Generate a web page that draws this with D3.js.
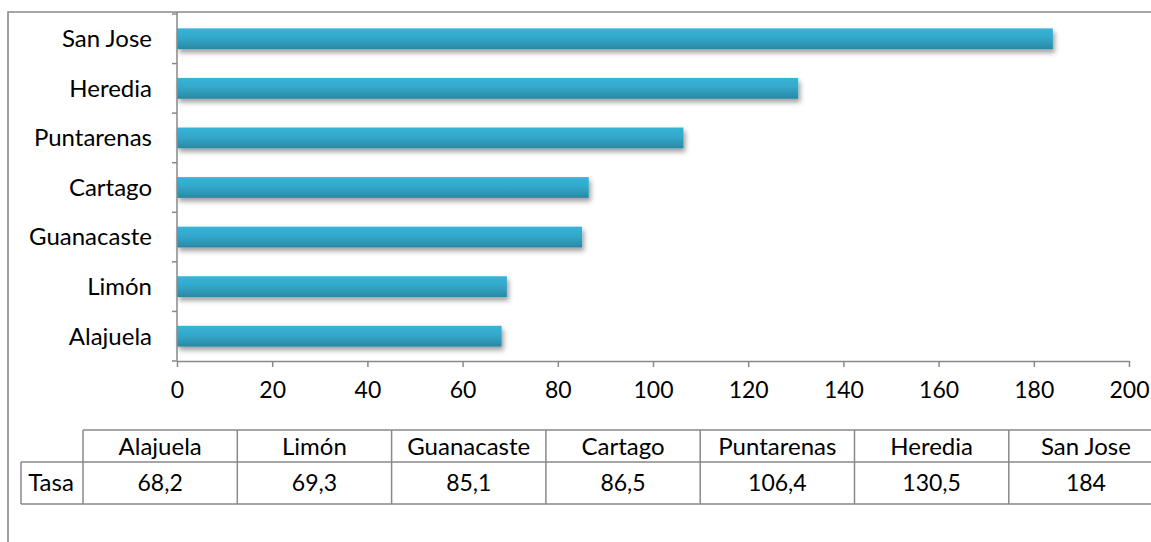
<!DOCTYPE html>
<html>
<head>
<meta charset="utf-8">
<script src="https://cdn.jsdelivr.net/npm/d3@7"></script>
<style>
  html, body { margin: 0; padding: 0; background: #fff; }
  svg { display: block; font-family: Lato, "Open Sans", sans-serif; }
</style>
</head>
<body>
<svg id="chart" width="1151" height="542"></svg>
<script>
// Provinces (bottom to top on the chart, left to right in the table)
const provincias = ["Alajuela", "Limón", "Guanacaste", "Cartago", "Puntarenas", "Heredia", "San Jose"];
// Rate per province
const tasa = [68.2, 69.3, 85.1, 86.5, 106.4, 130.5, 184];
// Text shown in the data table
const tasaTexto = ["68,2", "69,3", "85,1", "86,5", "106,4", "130,5", "184"];
const serieNombre = "Tasa";
const xTicks = [0, 20, 40, 60, 80, 100, 120, 140, 160, 180, 200];

const svg = d3.select("#chart");
const gray = "#898989";
const fontSize = 24;
const numSize = 23;

// Gradient fill and soft shadow for the bars
const defs = svg.append("defs");
const grad = defs.append("linearGradient")
  .attr("id", "barGrad").attr("x1", 0).attr("y1", 0).attr("x2", 0).attr("y2", 1);
grad.append("stop").attr("offset", "0%").attr("stop-color", "#38B4D8");
grad.append("stop").attr("offset", "45%").attr("stop-color", "#33A8CB");
grad.append("stop").attr("offset", "100%").attr("stop-color", "#2A88A3");
const shadow = defs.append("filter").attr("id", "barShadow")
  .attr("x", "-5%").attr("y", "-40%").attr("width", "115%").attr("height", "200%");
shadow.append("feDropShadow")
  .attr("dx", 2).attr("dy", 3.5).attr("stdDeviation", 2.6)
  .attr("flood-color", "#000").attr("flood-opacity", 0.38);

// Outer chart frame (left and top edges)
svg.append("path")
  .attr("d", "M8,542 V12 H1151")
  .attr("fill", "none").attr("stroke", gray).attr("stroke-width", 1.6);

// Scales
const x = d3.scaleLinear().domain([0, 200]).range([177, 1129]);
const y = d3.scaleBand()
  .domain(provincias.slice().reverse())
  .range([14, 361])
  .paddingInner(0.58).paddingOuter(0.29);
const step = y.step();

// Bars
svg.append("g").selectAll("rect")
  .data(provincias.map((p, i) => ({ p, v: tasa[i] })))
  .join("rect")
  .attr("x", x(0))
  .attr("y", d => y(d.p))
  .attr("width", d => x(d.v) - x(0))
  .attr("height", y.bandwidth())
  .attr("fill", "url(#barGrad)")
  .attr("filter", "url(#barShadow)");

// Category axis: line plus ticks at band boundaries
const yAxis = svg.append("g");
yAxis.append("line")
  .attr("x1", x(0)).attr("x2", x(0)).attr("y1", 12).attr("y2", 361)
  .attr("stroke", gray).attr("stroke-width", 1.5);
const bounds = [14].concat(y.domain().map(c => y(c) - y.paddingOuter() * step + step));
yAxis.selectAll("line.tick")
  .data(bounds)
  .join("line").attr("class", "tick")
  .attr("x1", x(0) - 5).attr("x2", x(0))
  .attr("y1", d => d).attr("y2", d => d)
  .attr("stroke", gray).attr("stroke-width", 1.5);
yAxis.selectAll("text")
  .data(y.domain())
  .join("text")
  .attr("x", 152)
  .attr("y", d => y(d) + y.bandwidth() / 2)
  .attr("dy", "0.35em")
  .attr("text-anchor", "end")
  .attr("font-size", fontSize)
  .attr("fill", "#000")
  .text(d => d);

// Value axis
const xAxis = svg.append("g")
  .attr("transform", "translate(0,361)")
  .call(d3.axisBottom(x).tickValues(xTicks).tickSize(6).tickSizeOuter(0).tickPadding(15));
xAxis.select(".domain").attr("stroke", gray).attr("stroke-width", 1.5);
xAxis.selectAll(".tick line").attr("stroke", gray).attr("stroke-width", 1.5);
xAxis.selectAll(".tick text")
  .attr("font-size", numSize)
  .attr("font-family", "Lato, 'Open Sans', sans-serif")
  .attr("fill", "#000");

// Data table below the chart
const colW = 154.3;
const tableX = 83;
const col = d3.scaleBand().domain(provincias).range([tableX, tableX + colW * provincias.length]);
const rowTop = 430, rowMid = 462, rowBot = 504;
const table = svg.append("g").attr("stroke", gray).attr("stroke-width", 1.5).attr("fill", "none");
table.append("line").attr("x1", tableX).attr("x2", 1151).attr("y1", rowTop).attr("y2", rowTop);
table.append("line").attr("x1", 21).attr("x2", 1151).attr("y1", rowMid).attr("y2", rowMid);
table.append("line").attr("x1", 21).attr("x2", 1151).attr("y1", rowBot).attr("y2", rowBot);
table.append("line").attr("x1", 21).attr("x2", 21).attr("y1", rowMid).attr("y2", rowBot);
table.selectAll("line.col")
  .data(provincias)
  .join("line").attr("class", "col")
  .attr("x1", d => col(d)).attr("x2", d => col(d))
  .attr("y1", rowTop).attr("y2", rowBot);

const tText = svg.append("g").attr("fill", "#000").attr("text-anchor", "middle");
tText.selectAll("text.head")
  .data(provincias)
  .join("text").attr("class", "head")
  .attr("font-size", fontSize)
  .attr("x", d => col(d) + col.bandwidth() / 2)
  .attr("y", (rowTop + rowMid) / 2 + 1)
  .attr("dy", "0.35em")
  .text(d => d);
tText.selectAll("text.val")
  .data(provincias.map((p, i) => ({ p, t: tasaTexto[i] })))
  .join("text").attr("class", "val")
  .attr("font-size", numSize)
  .attr("x", d => col(d.p) + col.bandwidth() / 2)
  .attr("y", (rowMid + rowBot) / 2)
  .attr("dy", "0.35em")
  .text(d => d.t);
tText.append("text")
  .attr("font-size", fontSize)
  .attr("x", 51).attr("y", (rowMid + rowBot) / 2).attr("dy", "0.35em")
  .text(serieNombre);
</script>
</body>
</html>
